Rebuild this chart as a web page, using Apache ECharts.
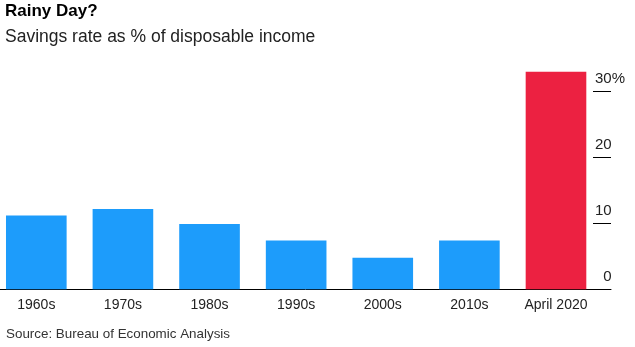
<!DOCTYPE html>
<html>
<head>
<meta charset="utf-8">
<script src="https://cdn.jsdelivr.net/npm/echarts@6/dist/echarts.min.js"></script>
<style>
html,body{margin:0;padding:0;background:#fff;}
#chart{width:635px;height:347px;}
</style>
</head>
<body>
<div id="chart"></div>
<script>
var categories = ['1960s', '1970s', '1980s', '1990s', '2000s', '2010s', 'April 2020'];
var savingsRate = [11.2, 12.2, 9.9, 7.4, 4.8, 7.4, 33.0];
var highlightIndex = 6;
var yLabelValues = [0, 10, 20, 30];

var FONT = '"Liberation Sans", Arial, Helvetica, sans-serif';
var BLUE = '#1d9cfb';
var RED = '#ec2141';

var chart = echarts.init(document.getElementById('chart'), null, {renderer: 'canvas'});

var gridTop = 25.7, gridBottom = 57.7;

chart.setOption({
  animation: false,
  backgroundColor: '#fff',
  title: [
    {
      text: 'Rainy Day?',
      subtext: 'Savings rate as % of disposable income',
      left: 5, top: 3,
      padding: 0,
      itemGap: 8,
      textStyle: {fontFamily: FONT, fontSize: 17, fontWeight: 'bold', color: '#000'},
      subtextStyle: {fontFamily: FONT, fontSize: 17.5, color: '#222'}
    },
    {
      text: 'Source: Bureau of Economic Analysis',
      left: 6, top: 328,
      padding: 0,
      textStyle: {fontFamily: FONT, fontSize: 13.4, fontWeight: 'normal', color: '#333'}
    }
  ],
  grid: [
    {left: -7, right: 35.7, top: gridTop, bottom: gridBottom, outerBoundsMode: 'none', containLabel: false},
    {left: 0, right: 24, top: gridTop, bottom: gridBottom, outerBoundsMode: 'none', containLabel: false},
    {left: 593, right: 24, top: 91.7, bottom: 347 - 223.3, outerBoundsMode: 'none', containLabel: false}
  ],
  xAxis: [
    {
      gridIndex: 0, type: 'category', data: categories,
      axisLine: {show: false}, axisTick: {show: false},
      axisLabel: {fontFamily: FONT, fontSize: 14, color: '#222', margin: 9, interval: 0}
    },
    {
      gridIndex: 1, type: 'value', min: 0, max: 1,
      axisLine: {show: true, lineStyle: {color: '#000', width: 1}},
      axisTick: {show: false}, axisLabel: {show: false}, splitLine: {show: false}
    },
    {
      gridIndex: 2, type: 'value', min: 0, max: 1, show: false
    }
  ],
  yAxis: [
    {
      gridIndex: 0, type: 'value', min: 0, max: 40, interval: 10, show: false
    },
    {
      gridIndex: 1, type: 'value', min: 0, max: 40, interval: 10, position: 'right',
      axisLine: {show: false},
      splitLine: {show: false},
      axisTick: {show: false},
      axisLabel: {
        show: true, inside: true, margin: -14, customValues: yLabelValues,
        verticalAlign: 'bottom', padding: [0, 0, 5, 0],
        fontFamily: FONT, fontSize: 15, color: '#222',
        formatter: function (v) {
          return v === 30 ? '{n|' + v + '}{p|%}' : '{n|' + v + '}{h|%}';
        },
        rich: {
          n: {fontFamily: FONT, fontSize: 15, color: '#222'},
          p: {fontFamily: FONT, fontSize: 15, color: '#222'},
          h: {fontFamily: FONT, fontSize: 15, color: 'rgba(0,0,0,0)'}
        }
      }
    },
    {
      gridIndex: 2, type: 'value', min: 10, max: 30, interval: 10,
      axisLine: {show: false}, axisTick: {show: false}, axisLabel: {show: false},
      splitLine: {show: true, lineStyle: {color: '#000', width: 1}}
    }
  ],
  series: [
    {
      type: 'bar', xAxisIndex: 0, yAxisIndex: 0,
      barWidth: '70%',
      data: savingsRate.map(function (v, i) {
        return {value: v, itemStyle: {color: i === highlightIndex ? RED : BLUE}};
      })
    }
  ]
});
</script>
</body>
</html>
